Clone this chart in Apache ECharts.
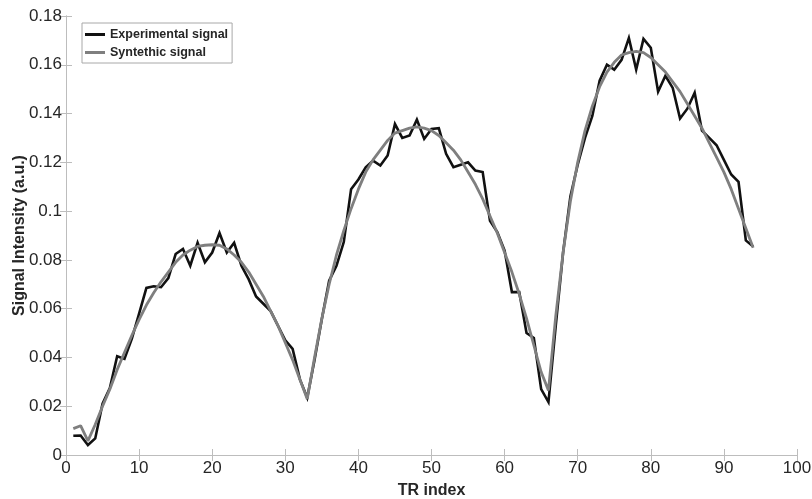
<!DOCTYPE html>
<html>
<head>
<meta charset="utf-8">
<script src="https://cdn.jsdelivr.net/npm/echarts@6/dist/echarts.min.js"></script>
<style>
  html, body { margin: 0; padding: 0; background: #ffffff; }
  #chart { width: 812px; height: 499px; }
</style>
</head>
<body>
<div id="chart"></div>
<script>
// TR indices 1..94
const trIndex = [];
for (let i = 1; i <= 94; i++) trIndex.push(i);

// Measured signal
const experimental = [
  0.0079, 0.0080, 0.0041, 0.0068, 0.0210, 0.0275, 0.0405, 0.0394, 0.0476, 0.0580,
  0.0685, 0.0692, 0.0688, 0.0725, 0.0824, 0.0845, 0.0776, 0.0870, 0.0790, 0.0830,
  0.0910, 0.0830, 0.0870, 0.0776, 0.0720, 0.0650, 0.0620, 0.0590, 0.0530, 0.0470,
  0.0435, 0.0310, 0.0235, 0.0390, 0.0558, 0.0715, 0.0776, 0.0873, 0.1090, 0.1130,
  0.1180, 0.1207, 0.1187, 0.1228, 0.1357, 0.1300, 0.1310, 0.1375, 0.1296, 0.1337,
  0.1340, 0.1235, 0.1180, 0.1190, 0.1200, 0.1166, 0.1160, 0.0960, 0.0914, 0.0838,
  0.0668, 0.0668, 0.0500, 0.0480, 0.0270, 0.0217, 0.0530, 0.0830, 0.1060, 0.1190,
  0.1300, 0.1390, 0.1535, 0.1600, 0.1580, 0.1620, 0.1710, 0.1580, 0.1706, 0.1670,
  0.1490, 0.1555, 0.1505, 0.1380, 0.1420, 0.1485, 0.1330, 0.1300, 0.1270, 0.1210,
  0.1150, 0.1120, 0.0880, 0.0855
];

// Simulated signal
const synthetic = [
  0.0108, 0.0120, 0.0058, 0.0125, 0.0200, 0.0270, 0.0350, 0.0420, 0.0490, 0.0555,
  0.0615, 0.0665, 0.0710, 0.0750, 0.0790, 0.0820, 0.0840, 0.0855, 0.0860, 0.0862,
  0.0860, 0.0845, 0.0820, 0.0790, 0.0750, 0.0700, 0.0650, 0.0590, 0.0530, 0.0460,
  0.0390, 0.0310, 0.0230, 0.0400, 0.0560, 0.0700, 0.0820, 0.0920, 0.1010, 0.1090,
  0.1160, 0.1210, 0.1250, 0.1290, 0.1320, 0.1330, 0.1340, 0.1345, 0.1340, 0.1330,
  0.1310, 0.1280, 0.1250, 0.1210, 0.1160, 0.1110, 0.1050, 0.0980, 0.0910, 0.0830,
  0.0750, 0.0660, 0.0560, 0.0450, 0.0340, 0.0265, 0.0570, 0.0830, 0.1040, 0.1200,
  0.1330, 0.1430, 0.1510, 0.1570, 0.1610, 0.1640, 0.1650, 0.1655, 0.1650, 0.1630,
  0.1600, 0.1570, 0.1530, 0.1490, 0.1440, 0.1390, 0.1340, 0.1280, 0.1220, 0.1160,
  0.1090, 0.1010, 0.0930, 0.0850
];

const xTicks = [0, 10, 20, 30, 40, 50, 60, 70, 80, 90, 100];
const yTicks = [0, 0.02, 0.04, 0.06, 0.08, 0.1, 0.12, 0.14, 0.16, 0.18];

const seriesNames = ['Experimental signal', 'Syntethic signal'];

const chart = echarts.init(document.getElementById('chart'), null, { renderer: 'canvas' });

const font = 'Liberation Sans, Arial, Helvetica, sans-serif';
const frameColor = '#bdbdbd';
const textColor = '#262626';

function pairs(values) {
  return values.map((v, i) => [trIndex[i], v]);
}

const tickLabel = v => Number(v.toFixed(4)).toString();

function frameAxis(extra) {
  return Object.assign({
    type: 'value',
    axisLine: { show: true, lineStyle: { color: frameColor, width: 1 } },
    axisTick: { show: true, inside: true, length: 6, lineStyle: { color: frameColor } },
    splitLine: { show: false }
  }, extra);
}

chart.setOption({
  animation: false,
  backgroundColor: '#ffffff',
  grid: { left: 66, right: 15, top: 16, bottom: 44, containLabel: false, outerBoundsMode: 'none' },
  legend: {
    left: 82,
    top: 23,
    orient: 'vertical',
    icon: 'rect',
    itemWidth: 20,
    itemHeight: 3,
    itemGap: 5,
    padding: [5, 4, 4, 3],
    borderColor: '#a8a8a8',
    borderWidth: 1,
    backgroundColor: '#ffffff',
    data: seriesNames,
    textStyle: { fontFamily: font, fontWeight: 'bold', fontSize: 12.5, color: textColor }
  },
  xAxis: [
    frameAxis({
      min: xTicks[0],
      max: xTicks[xTicks.length - 1],
      interval: 10,
      name: 'TR index',
      nameLocation: 'middle',
      nameGap: 28,
      nameMoveOverlap: false,
      nameTextStyle: { fontFamily: font, fontWeight: 'bold', fontSize: 16, color: textColor },
      axisLabel: { fontFamily: font, fontSize: 17, color: textColor, margin: 5 }
    }),
    frameAxis({
      position: 'top',
      min: xTicks[0],
      max: xTicks[xTicks.length - 1],
      interval: 10,
      axisLabel: { show: false }
    })
  ],
  yAxis: [
    frameAxis({
      min: yTicks[0],
      max: yTicks[yTicks.length - 1],
      interval: 0.02,
      name: 'Signal Intensity (a.u.)',
      nameLocation: 'middle',
      nameGap: 38,
      nameRotate: 90,
      nameMoveOverlap: false,
      nameTextStyle: { fontFamily: font, fontWeight: 'bold', fontSize: 16, color: textColor },
      axisLabel: { fontFamily: font, fontSize: 17, color: textColor, margin: 4, formatter: tickLabel }
    }),
    frameAxis({
      position: 'right',
      min: yTicks[0],
      max: yTicks[yTicks.length - 1],
      interval: 0.02,
      axisLabel: { show: false }
    })
  ],
  series: [
    {
      name: seriesNames[0],
      type: 'line',
      data: pairs(experimental),
      symbol: 'none',
      lineStyle: { color: '#111111', width: 2.6, join: 'miter' },
      itemStyle: { color: '#111111' },
      z: 2
    },
    {
      name: seriesNames[1],
      type: 'line',
      data: pairs(synthetic),
      symbol: 'none',
      lineStyle: { color: '#7f7f7f', width: 2.8 },
      itemStyle: { color: '#7f7f7f' },
      z: 3
    }
  ]
});
</script>
</body>
</html>
